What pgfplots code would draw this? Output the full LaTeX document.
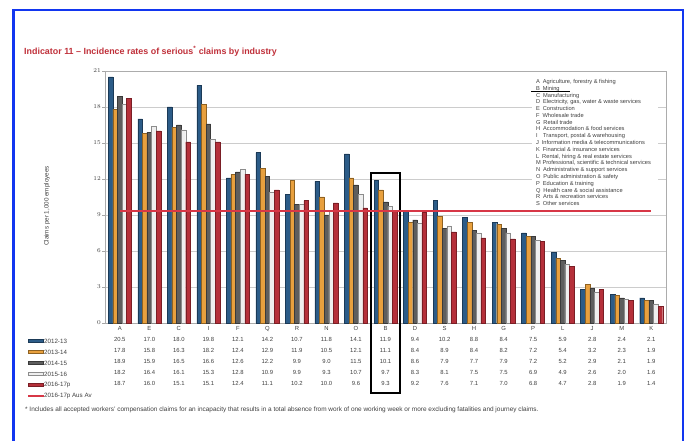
\documentclass[border=0pt]{standalone}
\usepackage{pgfplots}
\pgfplotsset{compat=1.18}
\usepackage{fontspec}
\setmainfont{Liberation Sans}
\definecolor{cA}{HTML}{2C5C88}
\definecolor{cAd}{HTML}{1B3A57}
\definecolor{cB}{HTML}{E8A03E}
\definecolor{cBd}{HTML}{8F6222}
\definecolor{cC}{HTML}{5E5E5E}
\definecolor{cCd}{HTML}{3A3A3A}
\definecolor{cD}{HTML}{EFEFEF}
\definecolor{cDd}{HTML}{8C8C8C}
\definecolor{cE}{HTML}{B5303A}
\definecolor{cEd}{HTML}{7A1E25}
\definecolor{avgred}{RGB}{215,55,70}
\definecolor{titlered}{HTML}{C0303A}
\definecolor{frameblue}{HTML}{1236F0}
\definecolor{txt}{HTML}{404040}
\begin{document}
\begin{tikzpicture}
\useasboundingbox (0pt,0pt) rectangle (687pt,441pt);
\fill[white] (0pt,0pt) rectangle (687pt,441pt);
\coordinate (orig) at (105pt,118pt);
\draw[frameblue, line width=2.4pt] (13.3pt,-5pt) -- (13.3pt,431pt) -- (682.7pt,431pt) -- (682.7pt,-5pt);
\node[anchor=west, inner sep=0pt, font=\fontsize{8.9}{10}\selectfont\bfseries, text=titlered] at (24pt,390pt) {Indicator 11 -- Incidence rates of serious\textsuperscript{*} claims by industry};
\node[rotate=90, inner sep=0pt, font=\fontsize{6.3}{7}\selectfont, text=txt] at (47pt,235pt) {Claims per 1,000 employees};
\begin{axis}[at={(orig)}, anchor=south west, scale only axis,
  width=561pt, height=252pt,
  xmin=-0.5, xmax=18.5, ymin=0, ymax=21,
  ytick={0,3,...,21},
  xtick={0,...,18},
  xticklabels={%
   {A\\20.5\\17.8\\18.9\\18.2\\18.7},
   {E\\17.0\\15.8\\15.9\\16.4\\16.0},
   {C\\18.0\\16.3\\16.5\\16.1\\15.1},
   {I\\19.8\\18.2\\16.6\\15.3\\15.1},
   {F\\12.1\\12.4\\12.6\\12.8\\12.4},
   {Q\\14.2\\12.9\\12.2\\10.9\\11.1},
   {R\\10.7\\11.9\\9.9\\9.9\\10.2},
   {N\\11.8\\10.5\\9.0\\9.3\\10.0},
   {O\\14.1\\12.1\\11.5\\10.7\\9.6},
   {B\\11.9\\11.1\\10.1\\9.7\\9.3},
   {D\\9.4\\8.4\\8.6\\8.3\\9.2},
   {S\\10.2\\8.9\\7.9\\8.1\\7.6},
   {H\\8.8\\8.4\\7.7\\7.5\\7.1},
   {G\\8.4\\8.2\\7.9\\7.5\\7.0},
   {P\\7.5\\7.2\\7.2\\6.9\\6.8},
   {L\\5.9\\5.4\\5.2\\4.9\\4.7},
   {J\\2.8\\3.2\\2.9\\2.6\\2.8},
   {M\\2.4\\2.3\\2.1\\2.0\\1.9},
   {K\\2.1\\1.9\\1.9\\1.6\\1.4}},
  xtick style={draw=none},
  xticklabel style={font=\fontsize{5.9}{11}\selectfont, align=center, inner sep=0pt, text=txt},
  ytick align=outside,
  ytick pos=left,
  major tick length=3pt,
  ytick style={gray!70, line width=0.6pt},
  yticklabel style={font=\fontsize{5.8}{7}\selectfont, text=txt, inner sep=1pt},
  ymajorgrids, grid style={gray!40, line width=0.8pt},
  axis line style={gray!65, line width=0.7pt},
  ybar=0pt, bar width=4.6pt,
  clip=false]
\addplot[fill=cA, draw=cAd, line width=0.4pt] coordinates {(0,20.5) (1,17.0) (2,18.0) (3,19.8) (4,12.1) (5,14.2) (6,10.7) (7,11.8) (8,14.1) (9,11.9) (10,9.4) (11,10.2) (12,8.8) (13,8.4) (14,7.5) (15,5.9) (16,2.8) (17,2.4) (18,2.1)};
\addplot[fill=cB, draw=cBd, line width=0.4pt] coordinates {(0,17.8) (1,15.8) (2,16.3) (3,18.2) (4,12.4) (5,12.9) (6,11.9) (7,10.5) (8,12.1) (9,11.1) (10,8.4) (11,8.9) (12,8.4) (13,8.2) (14,7.2) (15,5.4) (16,3.2) (17,2.3) (18,1.9)};
\addplot[fill=cC, draw=cCd, line width=0.4pt] coordinates {(0,18.9) (1,15.9) (2,16.5) (3,16.6) (4,12.6) (5,12.2) (6,9.9) (7,9.0) (8,11.5) (9,10.1) (10,8.6) (11,7.9) (12,7.7) (13,7.9) (14,7.2) (15,5.2) (16,2.9) (17,2.1) (18,1.9)};
\addplot[fill=cD, draw=cDd, line width=0.4pt] coordinates {(0,18.2) (1,16.4) (2,16.1) (3,15.3) (4,12.8) (5,10.9) (6,9.9) (7,9.3) (8,10.7) (9,9.7) (10,8.3) (11,8.1) (12,7.5) (13,7.5) (14,6.9) (15,4.9) (16,2.6) (17,2.0) (18,1.6)};
\addplot[fill=cE, draw=cEd, line width=0.4pt] coordinates {(0,18.7) (1,16.0) (2,15.1) (3,15.1) (4,12.4) (5,11.1) (6,10.2) (7,10.0) (8,9.6) (9,9.3) (10,9.2) (11,7.6) (12,7.1) (13,7.0) (14,6.8) (15,4.7) (16,2.8) (17,1.9) (18,1.4)};
\draw[black, line width=1.4pt] (axis cs:8.51,12.5) rectangle (axis cs:9.49,-5.83);
\end{axis}
\begin{axis}[at={(orig)}, anchor=south west, scale only axis,
  width=561pt, height=252pt,
  xmin=-0.5, xmax=18.5, ymin=0, ymax=21,
  hide axis]
\addplot[draw=avgred, line width=2pt, mark=none] table {
x y
0 9.3
18 9.3
};
\end{axis}
% industry key
\fill[white] (532pt,365pt) rectangle (658pt,233pt);
\node[anchor=north west, inner sep=0pt, align=left, font=\fontsize{5.7}{6.78}\selectfont, text=txt] at (536pt,361.8pt) {%
A\enspace Agriculture, forestry \& fishing\\
B\enspace Mining\\
C\enspace Manufacturing\\
D\enspace Electricity, gas, water \& waste services\\
E\enspace Construction\\
F\enspace Wholesale trade\\
G\enspace Retail trade\\
H\enspace Accommodation \& food services\\
I\enspace\, Transport, postal \& warehousing\\
J\enspace Information media \& telecommunications\\
K\enspace Financial \& insurance services\\
L\enspace Rental, hiring \& real estate services\\
M Professional, scientific \& technical services\\
N\enspace Administrative \& support services\\
O\enspace Public administration \& safety\\
P\enspace Education \& training\\
Q\enspace Health care \& social assistance\\
R\enspace Arts \& recreation services\\
S\enspace Other services};
\draw[black, line width=0.6pt] (531pt,349.3pt) -- (570pt,349.3pt);
% series key
\foreach \c/\d/\lab [count=\i from 0] in {cA/cAd/2012-13, cB/cBd/2013-14, cC/cCd/2014-15, cD/cDd/2015-16, cE/cEd/2016-17p}{
  \pgfmathsetmacro{\yy}{441-341-11*\i}
  \filldraw[fill=\c, draw=\d, line width=0.4pt] (28pt,\yy pt-1.7pt) rectangle (43pt,\yy pt+1.7pt);
  \node[anchor=west, inner sep=0pt, font=\fontsize{6.2}{7}\selectfont, text=txt] at (44pt,\yy pt) {\lab};
}
\draw[color=avgred, line width=1.3pt] (28pt,45pt) -- (44pt,45pt);
\node[anchor=west, inner sep=0pt, font=\fontsize{6.2}{7}\selectfont, text=txt] at (44pt,45pt) {2016-17p Aus Av};
\node[anchor=west, inner sep=0pt, font=\fontsize{6.45}{8}\selectfont, text=txt] at (25pt,31pt) {* Includes all accepted workers’ compensation claims for an incapacity that results in a total absence from work of one working week or more excluding fatalities and journey claims.};
\end{tikzpicture}
\end{document}
